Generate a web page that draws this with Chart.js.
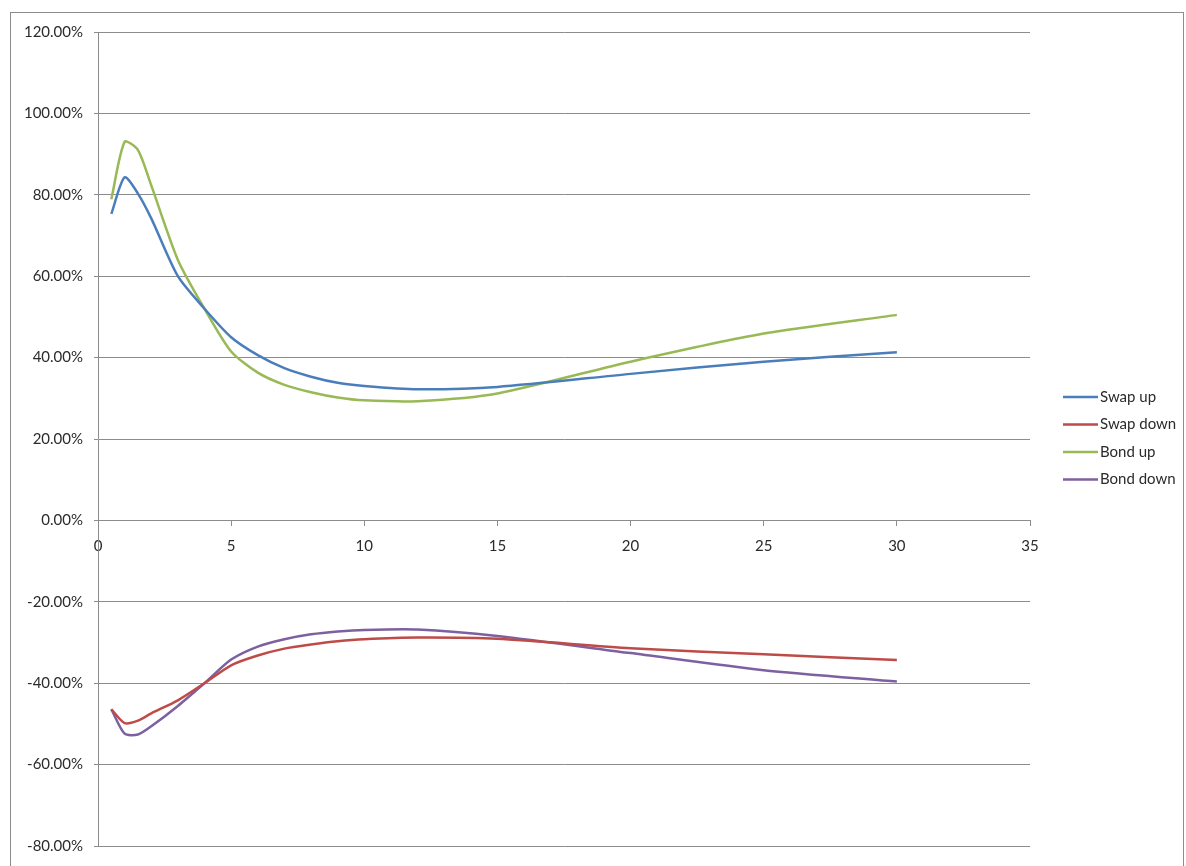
<!DOCTYPE html>
<html>
<head>
<meta charset="utf-8">
<script src="https://cdn.jsdelivr.net/npm/chart.js@4.4.1/dist/chart.umd.min.js"></script>
<style>
  html, body { margin: 0; padding: 0; background: #ffffff; }
  #wrap { position: relative; width: 1186px; height: 866px; overflow: hidden; }
  #frame { position: absolute; left: 10px; top: 12px; width: 1174px; height: 900px;
           border: 1px solid #8c8c8c; box-sizing: border-box; pointer-events: none; }
  canvas { position: absolute; left: 0; top: 0; }
</style>
</head>
<body>
<div id="wrap">
  <canvas id="chart" width="1186" height="866"></canvas>
  <div id="frame"></div>
</div>
<script>
// Maturities in years
const maturities = [0.5, 1, 1.5, 2, 3, 4, 5, 6, 7, 8, 9, 10, 12, 15, 20, 25, 30];

// Values in percent
const swapUp   = [75.3, 84.3, 80.3, 74.2, 60.0, 52.0, 45.0, 40.6, 37.4, 35.3, 33.8, 33.0, 32.2, 32.8, 36.0, 39.0, 41.3];
const swapDown = [-46.4, -49.8, -49.2, -47.4, -44.2, -40.0, -35.6, -33.2, -31.5, -30.5, -29.7, -29.2, -28.8, -29.1, -31.4, -32.9, -34.3];
const bondUp   = [78.9, 93.0, 91.0, 82.3, 64.0, 52.0, 41.5, 36.3, 33.3, 31.5, 30.2, 29.5, 29.3, 31.2, 39.0, 45.9, 50.5];
const bondDown = [-46.4, -52.4, -52.6, -50.6, -45.6, -40.0, -34.2, -31.0, -29.2, -28.0, -27.3, -26.9, -26.8, -28.4, -32.6, -36.8, -39.6];

const seriesNames  = ['Swap up', 'Swap down', 'Bond up', 'Bond down'];
const seriesValues = [swapUp, swapDown, bondUp, bondDown];
const seriesColors = ['#4a7ebb', '#be4b48', '#98b954', '#7d60a0'];

// Axis ranges
const xMin = 0, xMax = 35, xStep = 5;
const yMin = -80, yMax = 120, yStep = 20;

const FONT = { family: 'Lato, "Liberation Sans", sans-serif', size: 15 };
const TEXT_COLOR = '#2b2b2b';
const GRID_COLOR = '#8c8c8c';

// Legend drawn on the right-hand side of the plot
const sideLegend = {
  id: 'sideLegend',
  afterDraw(chart) {
    const ctx = chart.ctx;
    const x0 = 1063, lineLen = 35, top = 397, gap = 27.5;
    ctx.save();
    ctx.font = FONT.size + 'px ' + FONT.family;
    ctx.textBaseline = 'middle';
    ctx.textAlign = 'left';
    chart.data.datasets.forEach((ds, i) => {
      const y = top + i * gap;
      ctx.strokeStyle = ds.borderColor;
      ctx.lineWidth = 2.5;
      ctx.beginPath();
      ctx.moveTo(x0, y);
      ctx.lineTo(x0 + lineLen, y);
      ctx.stroke();
      ctx.fillStyle = TEXT_COLOR;
      ctx.fillText(ds.label, x0 + lineLen + 2, y);
    });
    ctx.restore();
  }
};

const datasets = seriesNames.map((name, i) => ({
  label: name,
  data: maturities.map((m, j) => ({ x: m, y: seriesValues[i][j] })),
  showLine: true,
  borderColor: seriesColors[i],
  backgroundColor: seriesColors[i],
  borderWidth: 2.5,
  pointRadius: 0,
  pointHoverRadius: 0,
  tension: 0.25,
  fill: false
}));

new Chart(document.getElementById('chart'), {
  type: 'scatter',
  data: { datasets },
  options: {
    responsive: false,
    animation: false,
    devicePixelRatio: 1,
    layout: { autoPadding: false, padding: { left: 0, top: 32, right: 156, bottom: 9 } },
    plugins: {
      legend: { display: false },
      tooltip: { enabled: false }
    },
    scales: {
      x: {
        type: 'linear',
        min: xMin,
        max: xMax,
        position: { y: 0 },
        afterFit(scale) { scale.height = 0; },
        ticks: {
          stepSize: xStep,
          color: TEXT_COLOR,
          font: FONT,
          padding: 12,
          maxRotation: 0
        },
        grid: { drawOnChartArea: false, drawTicks: true, tickLength: 5, color: GRID_COLOR },
        border: { display: true, color: GRID_COLOR, width: 1 }
      },
      y: {
        type: 'linear',
        min: yMin,
        max: yMax,
        afterFit(scale) { scale.width = 98; },
        ticks: {
          stepSize: yStep,
          color: TEXT_COLOR,
          font: FONT,
          padding: 11,
          callback: v => v.toFixed(2) + '%'
        },
        grid: { color: GRID_COLOR, tickLength: 4, lineWidth: 1 },
        border: { display: true, color: GRID_COLOR, width: 1 }
      }
    }
  },
  plugins: [sideLegend]
});
</script>
</body>
</html>
